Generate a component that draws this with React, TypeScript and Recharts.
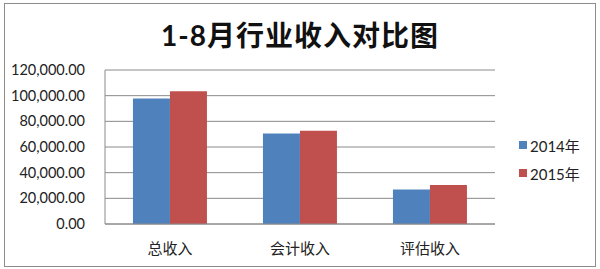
import { BarChart, Bar, XAxis, YAxis, CartesianGrid } from "recharts";

const categories = ["总收入", "会计收入", "评估收入"];
const income2014 = [97800, 70500, 26800];
const income2015 = [103500, 72600, 30400];
const yTicks = [0, 20000, 40000, 60000, 80000, 100000, 120000];

const seriesNames = ["2014年", "2015年"];
const colors = ["#4F81BD", "#C0504D"];

const data = categories.map((name, i) => ({
  name,
  [seriesNames[0]]: income2014[i],
  [seriesNames[1]]: income2015[i],
}));

const font = "Lato, 'Noto Sans CJK SC', sans-serif";

const fmt = (v: number) =>
  v.toLocaleString("en-US", { minimumFractionDigits: 2, maximumFractionDigits: 2 });

function LegendBox() {
  return (
    <div
      style={{
        position: "absolute",
        left: 519,
        top: 131,
        fontFamily: font,
        fontSize: 15,
        color: "#222",
      }}
    >
      {seriesNames.map((n, i) => (
        <div key={n} style={{ display: "flex", alignItems: "center", height: 28 }}>
          <span
            style={{ width: 8, height: 8, background: colors[i], display: "inline-block", marginRight: 3 }}
          />
          <span>{n}</span>
        </div>
      ))}
    </div>
  );
}

export default function App() {
  return (
    <div style={{ position: "absolute", left: 0, top: 0, width: 600, height: 269, background: "#fff" }}>
      <div
        style={{
          position: "absolute",
          left: 4,
          top: 3,
          width: 590,
          height: 262,
          border: "1px solid #8c8c8c",
        }}
      />
      <div
        style={{
          position: "absolute",
          left: 0,
          top: 15,
          width: 600,
          textAlign: "center",
          fontFamily: font,
          fontWeight: "bold",
          fontSize: 28,
          letterSpacing: 1,
          color: "#111",
          lineHeight: "40px",
        }}
      >
        1-8月行业收入对比图
      </div>
      <BarChart
        width={600}
        height={269}
        data={data}
        margin={{ top: 70, right: 105, left: 5, bottom: 15 }}
        barCategoryGap="21.5%"
        barGap={0}
      >
        <CartesianGrid vertical={false} stroke="#8a8a8a" />
        <XAxis
          dataKey="name"
          tick={{ fontSize: 15, fill: "#222", fontFamily: font }}
          tickLine={false}
          axisLine={{ stroke: "#8a8a8a" }}
          height={30}
          tickMargin={13}
        />
        <YAxis
          domain={[0, 120000]}
          ticks={yTicks}
          interval={0}
          tickFormatter={fmt}
          width={100}
          tick={{ fontSize: 14.5, fill: "#222", fontFamily: font }}
          tickLine={false}
          axisLine={{ stroke: "#8a8a8a" }}
          tickMargin={14}
        />
        <Bar dataKey={seriesNames[0]} fill={colors[0]} isAnimationActive={false} />
        <Bar dataKey={seriesNames[1]} fill={colors[1]} isAnimationActive={false} />
      </BarChart>
      <LegendBox />
    </div>
  );
}
